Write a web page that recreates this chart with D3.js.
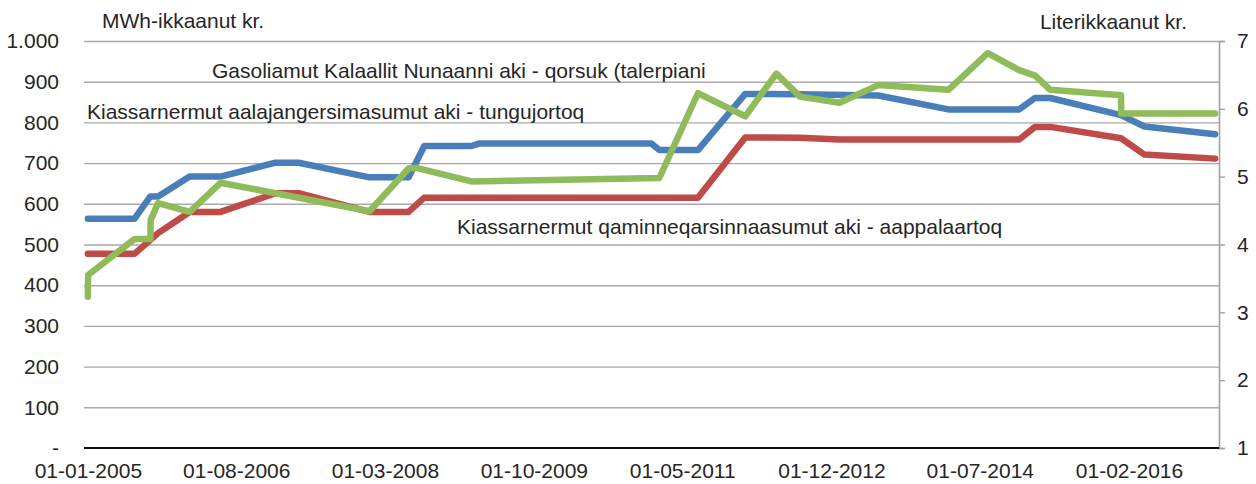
<!DOCTYPE html>
<html>
<head>
<meta charset="utf-8">
<script src="https://cdn.jsdelivr.net/npm/d3@7"></script>
<style>
  body { margin: 0; background: #fff; }
  svg text { font-family: "Liberation Sans", Arial, sans-serif; fill: #262626; }
  .grid line { stroke: #a9a9a9; stroke-width: 1.4; }
  .grid path { display: none; }
</style>
</head>
<body>
<svg id="chart" width="1256" height="484"></svg>
<script>
// Blue: fixed price per MWh (left axis)
const blueData = [
  ["2005-01-01", 563], ["2005-07-01", 563], ["2005-09-01", 618], ["2005-10-01", 618],
  ["2006-02-01", 667], ["2006-06-01", 667], ["2007-01-01", 701], ["2007-04-01", 701],
  ["2008-01-01", 665], ["2008-06-01", 665], ["2008-08-01", 742], ["2009-02-01", 742],
  ["2009-03-01", 748], ["2011-01-01", 748], ["2011-02-01", 732], ["2011-07-01", 732],
  ["2012-01-01", 870], ["2012-08-01", 869], ["2013-06-01", 866], ["2014-03-01", 832],
  ["2014-12-01", 832], ["2015-02-01", 860], ["2015-04-01", 860], ["2016-01-01", 818],
  ["2016-04-01", 790], ["2017-01-01", 771]
];
// Red: interruptible price per MWh (left axis)
const redData = [
  ["2005-01-01", 477], ["2005-07-01", 477], ["2005-10-01", 528], ["2006-02-01", 580],
  ["2006-06-01", 580], ["2007-01-01", 626], ["2007-04-01", 626], ["2008-01-01", 580],
  ["2008-06-01", 580], ["2008-08-01", 615], ["2011-07-01", 615], ["2012-01-01", 763],
  ["2012-08-01", 762], ["2013-01-01", 758], ["2014-12-01", 758], ["2015-02-01", 789],
  ["2015-04-01", 789], ["2016-01-01", 761], ["2016-04-01", 721], ["2017-01-01", 711]
];
// Green: gasoil price per litre (right axis)
const greenData = [
  ["2005-01-01", 3.23], ["2005-01-02", 3.55], ["2005-07-01", 4.08], ["2005-09-01", 4.08],
  ["2005-09-02", 4.36], ["2005-10-01", 4.61], ["2006-02-01", 4.48], ["2006-06-01", 4.91],
  ["2008-01-01", 4.49], ["2008-06-01", 5.12], ["2008-07-01", 5.13], ["2009-02-01", 4.93],
  ["2011-02-01", 4.98], ["2011-07-01", 6.23], ["2012-01-01", 5.89], ["2012-05-01", 6.52],
  ["2012-08-01", 6.18], ["2013-01-01", 6.09], ["2013-06-01", 6.35], ["2014-03-01", 6.28],
  ["2014-08-01", 6.82], ["2014-12-01", 6.57], ["2015-02-01", 6.49], ["2015-04-01", 6.28],
  ["2016-01-01", 6.20], ["2016-01-02", 5.93], ["2017-01-01", 5.93]
];

const leftTicks = [0, 100, 200, 300, 400, 500, 600, 700, 800, 900, 1000];
const rightTicks = [1, 2, 3, 4, 5, 6, 7];
const dateTicks = ["2005-01-01", "2006-08-01", "2008-03-01", "2009-10-01",
                   "2011-05-01", "2012-12-01", "2014-07-01", "2016-02-01"];

const parse = d3.timeParse("%Y-%m-%d");
const svg = d3.select("#chart");
const plotL = 84, plotR = 1219, plotT = 41, plotB = 448;
const fs = 21;

const x = d3.scaleTime()
  .domain([new Date(2004, 11, 17), new Date(2017, 0, 16)])
  .range([plotL, plotR]);
const yL = d3.scaleLinear().domain([0, 1000]).range([plotB, plotT]);
const yR = d3.scaleLinear().domain([1, 7]).range([plotB, plotT]);

// gridlines
svg.append("g").attr("class", "grid")
  .attr("transform", `translate(${plotL},0)`)
  .call(d3.axisLeft(yL).tickValues(leftTicks.slice(1)).tickSize(-(plotR - plotL)).tickFormat(""));

// left axis labels
const fmtL = v => v === 0 ? "-" : d3.format(",")(v).replace(",", ".");
const gl = svg.append("g").attr("transform", `translate(${plotL},0)`)
  .call(d3.axisLeft(yL).tickValues(leftTicks).tickSize(0).tickPadding(25).tickFormat(fmtL));
gl.select(".domain").remove();
gl.selectAll("text").attr("font-size", fs);

// right axis
const gr = svg.append("g").attr("transform", `translate(${plotR},0)`)
  .call(d3.axisRight(yR).tickValues(rightTicks).tickSize(6).tickPadding(12).tickFormat(d3.format("d")));
gr.select(".domain").attr("stroke", "#a0a0a0").attr("stroke-width", 1.6);
gr.selectAll(".tick line").attr("stroke", "#a0a0a0").attr("stroke-width", 1.4);
gr.selectAll("text").attr("font-size", fs);

// x axis
const gx = svg.append("g").attr("transform", `translate(0,${plotB})`)
  .call(d3.axisBottom(x).tickValues(dateTicks.map(parse)).tickSize(0).tickPadding(15)
    .tickFormat(d3.timeFormat("%d-%m-%Y")));
gx.select(".domain").remove();
gx.selectAll("text").attr("font-size", fs);
svg.append("line").attr("x1", plotL).attr("x2", plotR).attr("y1", plotB).attr("y2", plotB)
  .attr("stroke", "#111").attr("stroke-width", 2);

// lines
const series = [
  { data: blueData, y: yL, color: "#4a7ebb" },
  { data: redData, y: yL, color: "#be4b48" },
  { data: greenData, y: yR, color: "#8fbb5a" }
];
series.forEach(s => {
  const line = d3.line().x(d => x(parse(d[0]))).y(d => s.y(d[1]));
  svg.append("path").datum(s.data)
    .attr("d", line)
    .attr("fill", "none")
    .attr("stroke", s.color)
    .attr("stroke-width", 6.5)
    .attr("stroke-linejoin", "round")
    .attr("stroke-linecap", "round");
});

// titles & annotations
const labels = [
  { text: "MWh-ikkaanut kr.", x: 102, y: 28, anchor: "start" },
  { text: "Literikkaanut kr.", x: 1187, y: 29, anchor: "end" },
  { text: "Gasoliamut Kalaallit Nunaanni aki - qorsuk (talerpiani", x: 212, y: 78, anchor: "start" },
  { text: "Kiassarnermut aalajangersimasumut aki - tungujortoq", x: 87, y: 119, anchor: "start" },
  { text: "Kiassarnermut qaminneqarsinnaasumut aki - aappalaartoq", x: 457, y: 234, anchor: "start" }
];
svg.selectAll("text.lbl").data(labels).join("text")
  .attr("class", "lbl")
  .attr("x", d => d.x).attr("y", d => d.y)
  .attr("text-anchor", d => d.anchor)
  .attr("font-size", fs)
  .text(d => d.text);
</script>
</body>
</html>
